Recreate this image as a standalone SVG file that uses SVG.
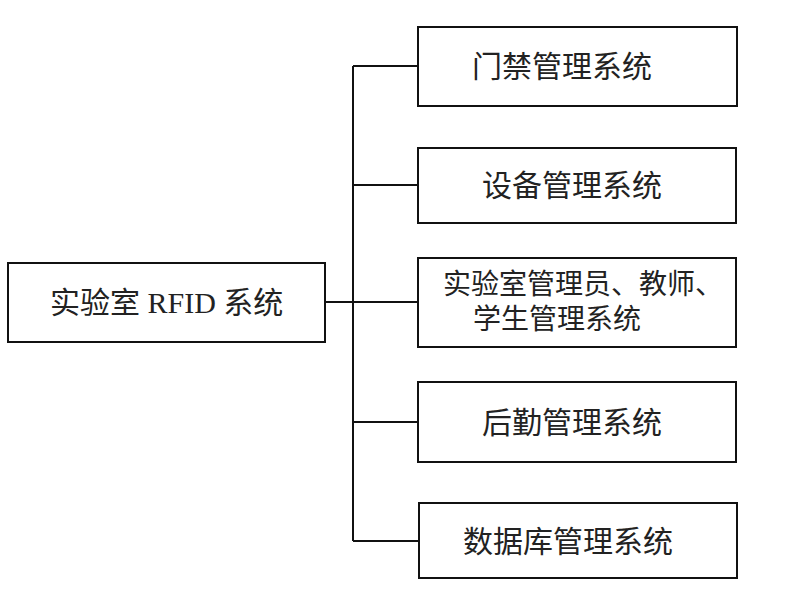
<svg xmlns="http://www.w3.org/2000/svg" width="798" height="614" viewBox="0 0 798 614">
<style>
.box{fill:#fff;stroke:#111;stroke-width:2}
.ln{fill:none;stroke:#111;stroke-width:2}
.t{font-family:"Liberation Serif","Noto Sans CJK SC",serif;font-size:30px;fill:#222}
.t2{font-family:"Liberation Serif","Noto Sans CJK SC",serif;font-size:28px;fill:#222}
</style>
<rect width="798" height="614" fill="#fff"/>
<g id="connectors">
<path class="ln" d="M325 302H418M353 66V541M353 66H418M353 185H418M353 422H418M353 541H419"/>
</g>
<g id="root">
<rect class="box" x="8" y="263" width="317" height="79"/>
<text class="t" x="50" y="302" dominant-baseline="central">实验室 RFID 系统</text>
</g>
<g id="n1">
<rect class="box" x="418" y="27" width="319" height="79"/>
<text class="t" x="472" y="66" dominant-baseline="central">门禁管理系统</text>
</g>
<g id="n2">
<rect class="box" x="418" y="148" width="318" height="75"/>
<text class="t" x="482" y="185" dominant-baseline="central">设备管理系统</text>
</g>
<g id="n3">
<rect class="box" x="418" y="258" width="318" height="89"/>
<text class="t2" x="443" y="284" dominant-baseline="central">实验室管理员、教师、</text>
<text class="t2" x="473" y="319" dominant-baseline="central">学生管理系统</text>
</g>
<g id="n4">
<rect class="box" x="418" y="382" width="318" height="80"/>
<text class="t" x="482" y="422" dominant-baseline="central">后勤管理系统</text>
</g>
<g id="n5">
<rect class="box" x="419" y="503" width="318" height="75"/>
<text class="t" x="463" y="541" dominant-baseline="central">数据库管理系统</text>
</g>
</svg>
